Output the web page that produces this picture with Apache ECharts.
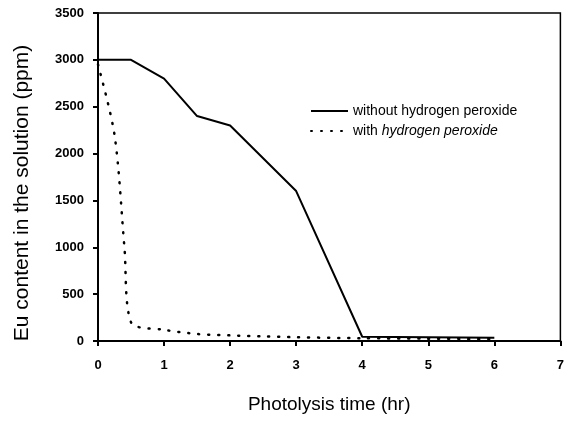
<!DOCTYPE html>
<html>
<head>
<meta charset="utf-8">
<script src="https://cdn.jsdelivr.net/npm/echarts@6/dist/echarts.min.js"></script>
<style>
  html, body { margin: 0; padding: 0; background: #fff; }
  #chart { width: 567px; height: 423px; }
</style>
</head>
<body>
<div id="chart"></div>
<script>
// Eu content vs photolysis time
const seriesNames = ['without hydrogen peroxide', 'with hydrogen peroxide']
const withoutTime = [0, 0.5, 1, 1.5, 2, 3, 4, 5, 6]
const withoutEu = [3000, 3000, 2800, 2400, 2300, 1600, 45, 40, 35]
const withTime = [0, 0.25, 0.4, 0.5, 1, 1.5, 2, 2.5, 3, 4, 5, 6]
const withEu = [2950, 2200, 1000, 200, 120, 75, 60, 50, 40, 30, 25, 20]

const pairs = (xs, ys) => xs.map((x, i) => [x, ys[i]])

const chart = echarts.init(document.getElementById('chart'))
const font = 'Liberation Sans, Arial, sans-serif'
const axisFont = { color: '#000', fontSize: 13, fontWeight: 'bold', fontFamily: font, formatter: v => String(v) }

const options = {
  animation: false,
  grid: {
    left: 98,
    right: 4,
    top: 13,
    bottom: 82,
    show: true,
    borderColor: '#000',
    borderWidth: 1.5,
  },
  legend: {
    orient: 'vertical',
    left: 305,
    top: 99,
    itemWidth: 37,
    itemHeight: 10,
    itemGap: 6,
    data: seriesNames,
    itemStyle: { opacity: 0 },
    formatter: name => name === seriesNames[1] ? 'with {i|hydrogen peroxide}' : name,
    textStyle: {
      color: '#000',
      fontSize: 14,
      fontFamily: font,
      rich: {
        i: { fontStyle: 'italic', fontSize: 14, color: '#000', fontFamily: font }
      }
    },
  },
  xAxis: {
    type: 'value',
    min: 0,
    max: 7,
    interval: 1,
    name: 'Photolysis time (hr)',
    nameLocation: 'middle',
    nameGap: 54,
    nameTextStyle: { color: '#000', fontSize: 19, fontFamily: font },
    axisLine: { lineStyle: { color: '#000', width: 2 } },
    axisTick: { length: 5, lineStyle: { color: '#000', width: 2 } },
    axisLabel: Object.assign({ margin: 18 }, axisFont),
    splitLine: { show: false },
  },
  yAxis: {
    type: 'value',
    min: 0,
    max: 3500,
    interval: 500,
    name: 'Eu content in the solution (ppm)',
    nameLocation: 'middle',
    nameGap: 65,
    nameTextStyle: { color: '#000', fontSize: 21, fontFamily: font, padding: [0, 32, 0, 0] },
    axisLine: { show: true, lineStyle: { color: '#000', width: 2 } },
    axisTick: { show: true, length: 5, lineStyle: { color: '#000', width: 2 } },
    axisLabel: Object.assign({ margin: 14 }, axisFont),
    splitLine: { show: false },
  },
  series: [
    {
      name: seriesNames[0],
      type: 'line',
      symbol: 'none',
      lineStyle: { color: '#000', width: 2 },
      itemStyle: { color: '#000' },
      data: pairs(withoutTime, withoutEu),
    },
    {
      name: seriesNames[1],
      type: 'line',
      symbol: 'none',
      smooth: 0.3,
      lineStyle: { color: '#000', width: 2.5, type: [1, 9], cap: 'round' },
      itemStyle: { color: '#000' },
      data: pairs(withTime, withEu),
    },
  ],
}
chart.setOption(options)
</script>
</body>
</html>
